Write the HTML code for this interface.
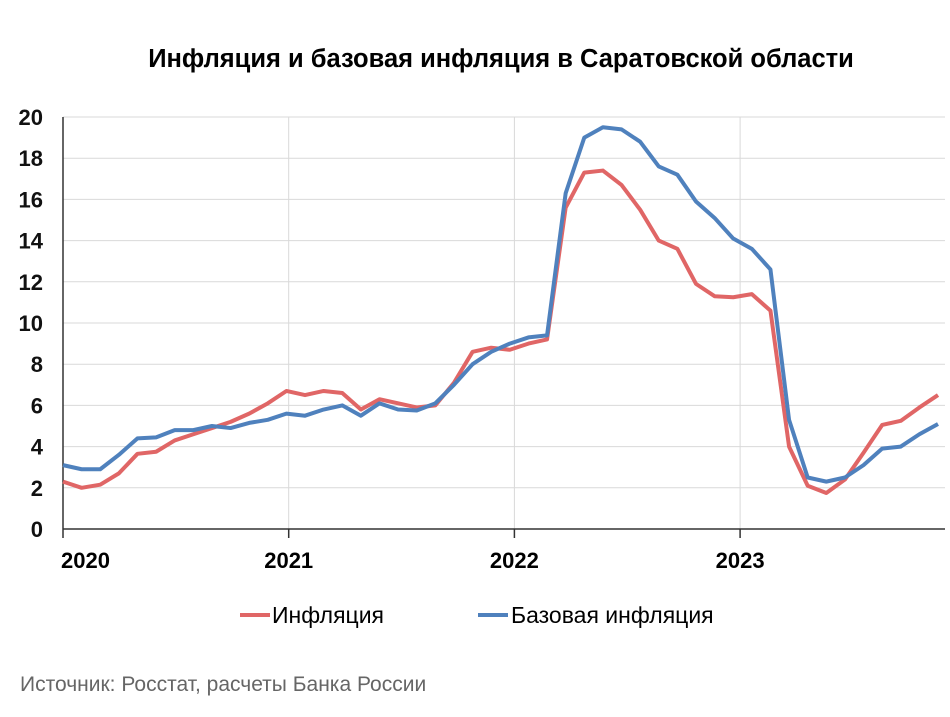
<!DOCTYPE html>
<html><head><meta charset="utf-8"><style>
body{margin:0;background:#fff;font-family:"Liberation Sans",sans-serif;}
</style></head><body>
<svg width="950" height="712" xmlns="http://www.w3.org/2000/svg">
<text x="501" y="67" text-anchor="middle" font-size="25.5" font-weight="bold" fill="#000">Инфляция и базовая инфляция в Саратовской области</text>
<g id="grid"></g><g id="yt"></g><g id="xt"></g><g id="lines"></g>
<g>
<line x1="240" y1="615" x2="270" y2="615" stroke="#e06666" stroke-width="4"/>
<text x="272" y="623" font-size="23">Инфляция</text>
<line x1="478" y1="615" x2="508" y2="615" stroke="#4f81bd" stroke-width="4"/>
<text x="511" y="623" font-size="23">Базовая инфляция</text>
</g>
<text x="20" y="691" font-size="21" fill="#666">Источник: Росстат, расчеты Банка России</text>
</svg>
<script>
const yTicks=[0,2,4,6,8,10,12,14,16,18,20];
const years=["2020","2021","2022","2023"];
const inflation=[2.3,2.0,2.15,2.7,3.65,3.75,4.3,4.6,4.9,5.2,5.6,6.1,6.7,6.5,6.7,6.6,5.8,6.3,6.1,5.9,6.0,7.1,8.6,8.8,8.7,9.0,9.2,15.6,17.3,17.4,16.7,15.5,14.0,13.6,11.9,11.3,11.25,11.4,10.6,4.0,2.1,1.75,2.4,3.7,5.05,5.25,5.9,6.5];
const coreInflation=[3.1,2.9,2.9,3.6,4.4,4.45,4.8,4.8,5.0,4.9,5.15,5.3,5.6,5.5,5.8,6.0,5.5,6.1,5.8,5.75,6.1,7.0,8.0,8.6,9.0,9.3,9.4,16.3,19.0,19.5,19.4,18.8,17.6,17.2,15.9,15.1,14.1,13.6,12.6,5.3,2.5,2.3,2.5,3.1,3.9,4.0,4.6,5.1];
const NS="http://www.w3.org/2000/svg";
const x0=63,x1=938,yTop=117,yBot=529;
const y=v=>yBot-(v/20)*(yBot-yTop);
const xi=i=>x0+i*(x1-x0)/(inflation.length-1);
const xYear=k=>x0+k*225.7;
function mk(t,a,p){const e=document.createElementNS(NS,t);for(const k in a)e.setAttribute(k,a[k]);p.appendChild(e);return e;}
const grid=document.getElementById('grid'),yt=document.getElementById('yt'),xt=document.getElementById('xt'),lines=document.getElementById('lines');
yTicks.forEach(v=>{
 if(v>0){const g=mk('line',{x1:x0,x2:945,y1:y(v),y2:y(v),stroke:'#d9d9d9','stroke-width':1},grid);
 
 }
 const t=mk('text',{x:43,y:y(v)+8,'text-anchor':'end','font-size':22,'font-weight':'bold','fill':'#111'},yt);t.textContent=v;
 
 
});
years.forEach((s,k)=>{
 const X=xYear(k);
 if(k>0){const g=mk('line',{x1:X,x2:X,y1:yTop,y2:yBot,stroke:'#d9d9d9','stroke-width':1},grid);
 
 }
 mk('line',{x1:X,x2:X,y1:yBot,y2:yBot+9,stroke:'#333','stroke-width':1.5},xt);
 const t=mk('text',{x:X+(k==0?-2:0),y:yBot+39,'text-anchor':k==0?'start':'middle','font-size':22,'font-weight':'bold'},xt);t.textContent=s;
 
 
});
const ya=mk('line',{x1:x0,x2:x0,y1:yTop,y2:yBot,stroke:'#333','stroke-width':1.5},xt);


const xa=mk('line',{x1:x0,x2:945,y1:yBot,y2:yBot,stroke:'#333','stroke-width':1.5},xt);


function series(d,c,n){
 const p=mk('polyline',{points:d.map((v,i)=>xi(i)+','+y(v)).join(' '),fill:'none',stroke:c,'stroke-width':4,'stroke-linejoin':'round'},lines);
 
 
}
series(inflation,'#e06666','inflation-line');
series(coreInflation,'#4f81bd','core-inflation-line');
</script>
</body></html>
